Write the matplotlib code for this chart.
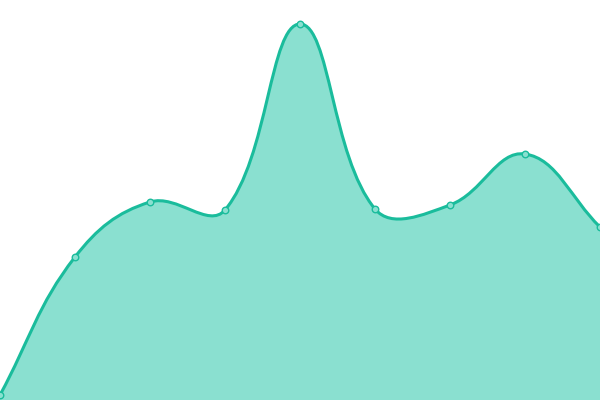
import numpy as np
import matplotlib
matplotlib.use("Agg")
import matplotlib.pyplot as plt
from matplotlib.path import Path
from matplotlib.patches import PathPatch

categories = list(range(9))
values = [5, 143, 198, 190, 376, 191, 195, 246, 173]

LINE = "#1abc9c"
FILL = "#8ae0d0"

fig = plt.figure(figsize=(6, 4), dpi=100)
ax = fig.add_axes([0, 0, 1, 1])
ax.set_xlim(0, 8)
ax.set_ylim(0, 400)
ax.axis("off")

# Chart.js-like bezier spline (tension 0.4), computed in pixel space
xs = np.array(categories, float)
ys = np.array(values, float)
sx = 75.0  # pixels per x unit
px, py = xs * sx, ys
t = 0.4
n = len(px)
cp_prev = [None] * n
cp_next = [None] * n
for i in range(n):
    p0 = (px[max(i - 1, 0)], py[max(i - 1, 0)])
    p1 = (px[i], py[i])
    p2 = (px[min(i + 1, n - 1)], py[min(i + 1, n - 1)])
    d01 = np.hypot(p1[0] - p0[0], p1[1] - p0[1])
    d12 = np.hypot(p2[0] - p1[0], p2[1] - p1[1])
    s01 = d01 / (d01 + d12) if d01 + d12 else 0
    s12 = d12 / (d01 + d12) if d01 + d12 else 0
    fa, fb = t * s01, t * s12
    cp_prev[i] = (p1[0] - fa * (p2[0] - p0[0]), p1[1] - fa * (p2[1] - p0[1]))
    cp_next[i] = (p1[0] + fb * (p2[0] - p0[0]), p1[1] + fb * (p2[1] - p0[1]))

verts = [(px[0] / sx, py[0])]
codes = [Path.MOVETO]
for i in range(n - 1):
    c1 = cp_next[i]
    c2 = cp_prev[i + 1]
    verts += [(c1[0] / sx, c1[1]), (c2[0] / sx, c2[1]), (px[i + 1] / sx, py[i + 1])]
    codes += [Path.CURVE4] * 3

line_path = Path(verts, codes)
fill_verts = verts + [(xs[-1], 0), (xs[0], 0), verts[0]]
fill_codes = codes + [Path.LINETO, Path.LINETO, Path.CLOSEPOLY]
ax.add_patch(PathPatch(Path(fill_verts, fill_codes), facecolor=FILL, edgecolor="none", zorder=1))
ax.add_patch(PathPatch(line_path, facecolor="none", edgecolor=LINE, lw=2.2, zorder=2))
ax.scatter(xs, ys, s=22, facecolor=FILL, edgecolor=LINE, linewidths=1.0, zorder=3, clip_on=False)

fig.savefig("out.png", dpi=100)
